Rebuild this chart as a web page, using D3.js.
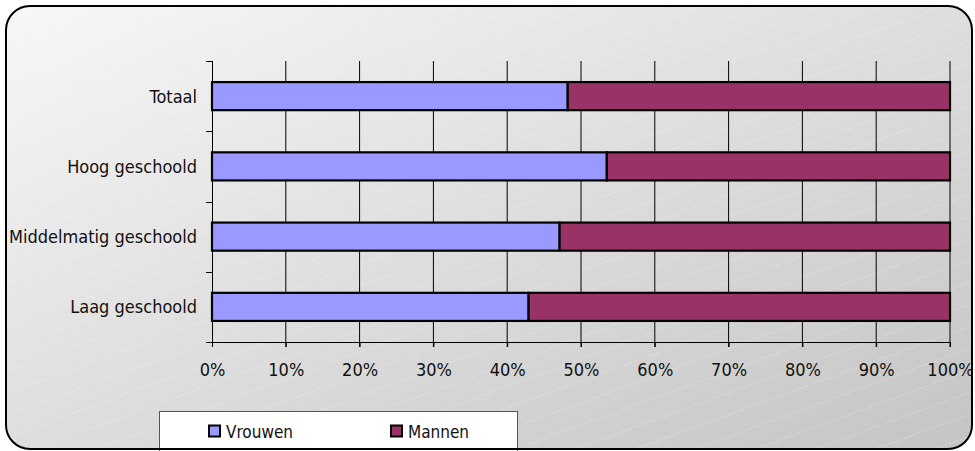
<!DOCTYPE html>
<html>
<head>
<meta charset="utf-8">
<script src="https://cdn.jsdelivr.net/npm/d3@7"></script>
<style>
html,body{margin:0;padding:0;background:#fff;}
svg{display:block;}
text{font-family:"DejaVu Sans Condensed","DejaVu Sans",sans-serif;fill:#111;}
</style>
</head>
<body>
<script>
const categories = ["Totaal", "Hoog geschoold", "Middelmatig geschoold", "Laag geschoold"];
const vrouwen = [48.2, 53.5, 47.1, 42.9];
const mannen = [51.8, 46.5, 52.9, 57.1];
const seriesNames = ["Vrouwen", "Mannen"];
const seriesColors = ["#9999ff", "#993366"];
const xTicks = [0, 10, 20, 30, 40, 50, 60, 70, 80, 90, 100];

const W = 975, H = 451;
const svg = d3.select("body").append("svg").attr("width", W).attr("height", H);
const defs = svg.append("defs");
const grad = defs.append("linearGradient").attr("id", "bg")
  .attr("x1", "0").attr("y1", "0").attr("x2", "1").attr("y2", "1");
grad.append("stop").attr("offset", "0").attr("stop-color", "#f7f7f7");
grad.append("stop").attr("offset", "1").attr("stop-color", "#c4c4c4");

const pat = defs.append("pattern").attr("id", "diag").attr("patternUnits", "userSpaceOnUse")
  .attr("width", 60).attr("height", 22);
pat.append("line").attr("x1", 0).attr("y1", 22).attr("x2", 60).attr("y2", 0)
  .attr("stroke", "#ffffff").attr("stroke-width", 0.8).attr("stroke-dasharray", "2,2").attr("opacity", 0.45);

const frame = () => svg.append("rect").attr("x", 6).attr("y", 6).attr("width", 966).attr("height", 443)
  .attr("rx", 24).attr("ry", 24);
frame().attr("fill", "url(#bg)");
frame().attr("fill", "url(#diag)");

const x = d3.scaleLinear().domain([0, 100]).range([212, 950]);
const y = d3.scaleBand().domain(categories).range([61, 342]).paddingInner(0.6).paddingOuter(0.3);
const halfGap = y.step() * 0.3;

// vertical gridlines
svg.append("g").selectAll("line").data(xTicks.slice(1)).join("line")
  .attr("x1", d => x(d)).attr("x2", d => x(d))
  .attr("y1", 61).attr("y2", 347)
  .attr("stroke", "#000").attr("stroke-width", 1);

// x axis
const xAxis = d3.axisBottom(x).tickValues(xTicks).tickFormat(d => d + "%").tickSize(5).tickPadding(16);
const xa = svg.append("g").attr("transform", "translate(0,342)").call(xAxis);
xa.select(".domain").remove();
xa.append("line").attr("x1", 206).attr("x2", 950).attr("y1", 0.5).attr("y2", 0.5).attr("stroke", "#000");
xa.selectAll(".tick line").attr("stroke", "#000");
xa.selectAll("text").style("font-size", "18px").attr("fill", "#111")
  .style("font-family", "'DejaVu Sans Condensed','DejaVu Sans',sans-serif");

// y axis line and ticks at band boundaries
const boundaries = categories.map(c => y(c) - halfGap).concat([y(categories[categories.length - 1]) + y.bandwidth() + halfGap]);
svg.append("line").attr("x1", 212.5).attr("x2", 212.5).attr("y1", 61).attr("y2", 347).attr("stroke", "#000");
svg.selectAll("line.yt").data(boundaries).join("line")
  .attr("x1", 206).attr("x2", 212).attr("y1", d => Math.round(d) + 0.5).attr("y2", d => Math.round(d) + 0.5)
  .attr("stroke", "#000");
svg.selectAll("text.ylab").data(categories).join("text")
  .attr("x", 197).attr("y", d => y(d) + y.bandwidth() / 2)
  .attr("text-anchor", "end").attr("dominant-baseline", "central")
  .style("font-size", "18px").text(d => d);

// bars
const rows = categories.map((c, i) => ({ c, v: [vrouwen[i], mannen[i]] }));
rows.forEach(r => {
  let acc = 0;
  r.v.forEach((v, k) => {
    svg.append("rect")
      .attr("x", x(acc)).attr("y", y(r.c))
      .attr("width", x(acc + v) - x(acc)).attr("height", y.bandwidth())
      .attr("fill", seriesColors[k]).attr("stroke", "#000").attr("stroke-width", 2.2);
    acc += v;
  });
});

// legend
const lg = svg.append("g");
lg.append("rect").attr("x", 159.5).attr("y", 411.5).attr("width", 358).attr("height", 60)
  .attr("fill", "#fff").attr("stroke", "#555").attr("stroke-width", 1);
const legX = [209, 391];
seriesNames.forEach((n, k) => {
  lg.append("rect").attr("x", legX[k]).attr("y", 425.5).attr("width", 11).attr("height", 11)
    .attr("fill", seriesColors[k]).attr("stroke", "#000").attr("stroke-width", 2);
  lg.append("text").attr("x", legX[k] + 17).attr("y", 432).attr("dominant-baseline", "central")
    .style("font-size", "17px").text(n);
});

frame().attr("fill", "none").attr("stroke", "#000").attr("stroke-width", 2);
</script>
</body>
</html>
